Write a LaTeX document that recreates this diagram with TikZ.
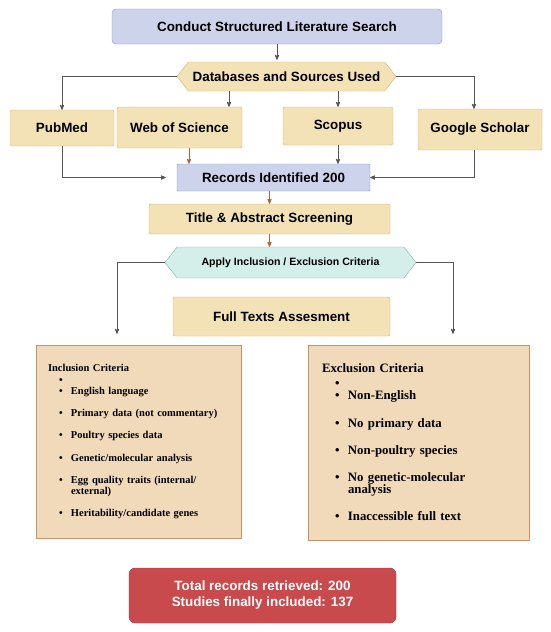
\documentclass[tikz,border=0pt]{standalone}
\usepackage{fontspec}
\setmainfont{Liberation Serif}
\setsansfont{Liberation Sans}
\usetikzlibrary{arrows,shapes,calc}

\definecolor{lavfill}{HTML}{CDD3EA}
\definecolor{lavline}{HTML}{8C95BC}
\definecolor{tanfill}{HTML}{F3E2B6}
\definecolor{tanline}{HTML}{D6B272}
\definecolor{tealfill}{HTML}{D4EEEA}
\definecolor{tealline}{HTML}{7DB5AA}
\definecolor{peachfill}{HTML}{F0DAB9}
\definecolor{peachline}{HTML}{C7926A}
\definecolor{redfill}{HTML}{C84A4C}
\definecolor{redline}{HTML}{A53A3C}
\definecolor{arrgray}{HTML}{555555}
\definecolor{arrbrown}{HTML}{B0643A}

\newcommand{\critbullet}[2]{\hspace*{#1}\makebox[#2][l]{\textbullet}}

\begin{document}
\begin{tikzpicture}[x=1pt,y=-1pt,>=stealth',
  boxfont/.style={font=\sffamily\bfseries\fontsize{13.4}{16}\selectfont},
  lavbox/.style={boxfont,draw=lavline,fill=lavfill,rounded corners=4pt,inner sep=0pt},
  tanbox/.style={boxfont,draw=tanline,fill=tanfill,rounded corners=1.5pt,inner sep=0pt},
  hexbox/.style={shape=signal,signal to=west and east,signal pointer angle=104,inner sep=0pt},
  critbox/.style={draw=peachline,fill=peachfill,align=left,anchor=center},
  arr/.style={->,draw=arrgray,line width=0.8pt},
  brownarr/.style={->,draw=arrbrown,line width=0.8pt}]
  \useasboundingbox (0,0) rectangle (550,632);
  % search and sources
  \node[lavbox,minimum width=330pt,minimum height=35pt] (search) at (277,26.5) {Conduct Structured Literature Search};
  \node[hexbox,boxfont,draw=tanline,fill=tanfill,minimum width=219pt,minimum height=29pt] (dbs) at (286.5,76.5) {Databases and Sources Used};
  \node[tanbox,minimum width=104pt,minimum height=36pt] (pubmed) at (62,128) {PubMed};
  \node[tanbox,minimum width=125pt,minimum height=41pt] (wos) at (179.5,127.5) {Web of Science};
  \node[tanbox,minimum width=110pt,minimum height=38pt] (scopus) at (338,126) {Scopus};
  \node[tanbox,minimum width=124pt,minimum height=41pt] (gs) at (480,129.5) {Google Scholar};
  \node[lavbox,rounded corners=1pt,minimum width=193pt,minimum height=27pt] (records) at (273.5,177.5) {Records Identified 200};
  % screening
  \node[tanbox,minimum width=241pt,minimum height=30pt] (title) at (269.5,219) {Title \& Abstract Screening};
  \node[hexbox,draw=tealline,fill=tealfill,font=\sffamily\bfseries\fontsize{10.6}{13}\selectfont,minimum width=251pt,minimum height=31pt] (apply) at (290.5,262.5) {Apply Inclusion / Exclusion Criteria};
  \node[tanbox,minimum width=217pt,minimum height=39pt] (fulltext) at (281.5,316.5) {Full Texts Assesment};
  % criteria
  \node[critbox,font=\bfseries\fontsize{10.5}{11.2}\selectfont,text width=181pt,inner xsep=12pt,minimum height=193pt] (incl) at (138.5,441.5) {%
    Inclusion Criteria\\[0.8pt]
    \critbullet{11pt}{12pt}\\
    \critbullet{11pt}{12pt}English language\\[11pt]
    \critbullet{11pt}{12pt}Primary data (not commentary)\\[11pt]
    \critbullet{11pt}{12pt}Poultry species data\\[11pt]
    \critbullet{11pt}{12pt}Genetic/molecular analysis\\[11pt]
    \critbullet{11pt}{12pt}Egg quality traits (internal/\\
    \hspace*{23pt}external)\\[11pt]
    \critbullet{11pt}{12pt}Heritability/candidate genes};
  \node[critbox,font=\bfseries\fontsize{12.8}{12.2}\selectfont,text width=193pt,inner xsep=14pt,minimum height=195pt] (excl) at (418.5,442.5) {%
    Exclusion Criteria\\[2.8pt]
    \critbullet{13pt}{13pt}\\
    \critbullet{13pt}{13pt}Non-English\\[15pt]
    \critbullet{13pt}{13pt}No primary data\\[15pt]
    \critbullet{13pt}{13pt}Non-poultry species\\[15pt]
    \critbullet{13pt}{13pt}No genetic-molecular\\
    \hspace*{26pt}analysis\\[15pt]
    \critbullet{13pt}{13pt}Inaccessible full text};
  \node[boxfont,draw=redline,fill=redfill,text=white,rounded corners=6pt,align=center,minimum width=267pt,minimum height=55pt] (total) at (262.5,595.5) {Total records retrieved: 200\\Studies finally included: 137};
  % connectors
  \draw[arr] (search.south) -- ([yshift=2pt]search.south |- dbs.north);
  \draw[arr] (dbs.west) -| (pubmed.north);
  \draw[arr] (dbs.east) -| ([xshift=-6pt]gs.north);
  \draw[arr] ([xshift=49.5pt]wos.north |- dbs.south) -- ([xshift=49.5pt]wos.north);
  \draw[arr] (scopus.north |- dbs.south) -- (scopus.north);
  \draw[arr,shorten >=11pt] (pubmed.south) |- (records.west);
  \draw[arr] ([xshift=-6pt]gs.south) |- (records.east);
  \draw[brownarr] ([xshift=9.5pt]wos.south) -- ([xshift=9.5pt]wos.south |- records.north);
  \draw[arr] (scopus.south) -- (scopus.south |- records.north);
  \draw[brownarr] (title.north |- records.south) -- (title.north);
  \draw[brownarr] (title.south) -- (title.south |- apply.north);
  \draw[arr] (apply.west) -| ([xshift=-21.5pt,yshift=11pt]incl.north);
  \draw[arr] (apply.east) -| ([xshift=34.5pt,yshift=11pt]excl.north);
\end{tikzpicture}
\end{document}
